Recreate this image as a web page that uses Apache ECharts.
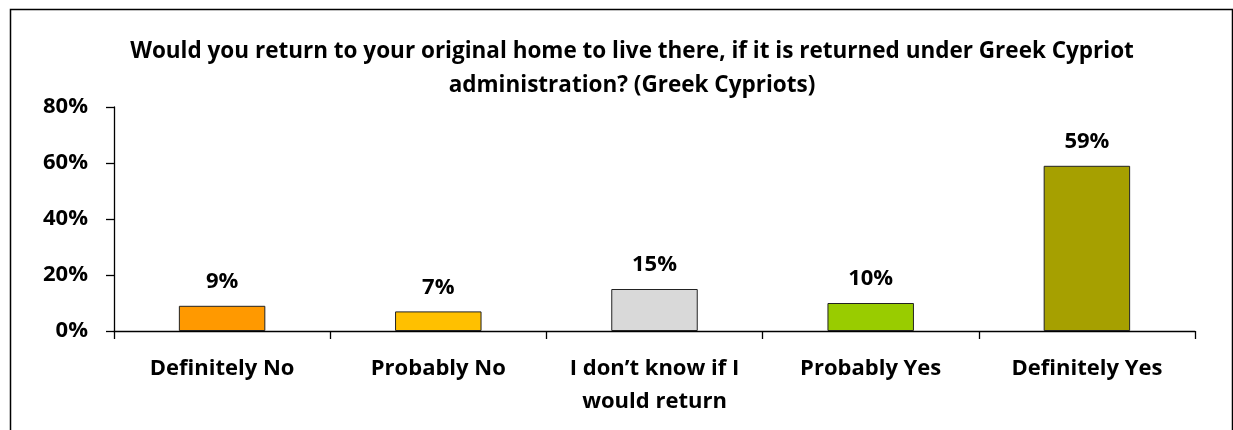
<!DOCTYPE html>
<html>
<head>
<meta charset="utf-8">
<script src="https://cdn.jsdelivr.net/npm/echarts@6/dist/echarts.min.js"></script>
<style>html,body{margin:0;padding:0;background:#fff}#c{width:1233px;height:430px}</style>
</head>
<body>
<div id="c"></div>
<script>
const titleText = 'Would you return to your original home to live there, if it is returned under Greek Cypriot\nadministration? (Greek Cypriots)';
const categories = ['Definitely No', 'Probably No', 'I don\u2019t know if I\nwould return', 'Probably Yes', 'Definitely Yes'];
const values = [9, 7, 15, 10, 59];
const barColors = ['#FF9900', '#FFC000', '#D9D9D9', '#99CC00', '#A6A000'];
const yTicks = [0, 20, 40, 60, 80];

const FONT = 'Open Sans';
const chart = echarts.init(document.getElementById('c'), null, {renderer: 'canvas'});
chart.setOption({
  animation: false,
  backgroundColor: '#fff',
  graphic: [{
    type: 'rect', left: 8, top: 7,
    shape: {width: 1222, height: 500},
    style: {fill: 'none', stroke: '#000', lineWidth: 1.5},
    silent: true
  }],
  title: {
    text: titleText, left: 627, top: 30, textAlign: 'center',
    textStyle: {fontFamily: FONT, fontWeight: 'bold', fontSize: 22.5, color: '#000', lineHeight: 34}
  },
  grid: {left: 114, right: 38, top: 107, bottom: 99, containLabel: false},
  xAxis: {
    type: 'category', data: categories,
    axisLine: {lineStyle: {color: '#000', width: 1.3}},
    axisTick: {show: true, length: 8, alignWithLabel: false, lineStyle: {color: '#000', width: 1.3}},
    axisLabel: {fontFamily: FONT, fontWeight: 'bold', fontSize: 22, color: '#000', margin: 21, lineHeight: 33, interval: 0}
  },
  yAxis: {
    type: 'value', min: yTicks[0], max: yTicks[yTicks.length - 1], interval: 20,
    axisLine: {show: true, lineStyle: {color: '#000', width: 1.3}},
    axisTick: {show: true, length: 8, lineStyle: {color: '#000', width: 1.3}},
    splitLine: {show: false},
    axisLabel: {fontFamily: FONT, fontWeight: 'bold', fontSize: 22, color: '#000', margin: 26, formatter: v => v + '%'}
  },
  series: [{
    type: 'bar', barWidth: '40%',
    data: values.map((v, i) => ({value: v, itemStyle: {color: barColors[i]}})),
    itemStyle: {borderColor: '#222', borderWidth: 1},
    label: {show: true, position: 'top', distance: 13, formatter: p => p.value + '%',
      fontFamily: FONT, fontWeight: 'bold', fontSize: 22, color: '#000'}
  }]
});
</script>
</body>
</html>
